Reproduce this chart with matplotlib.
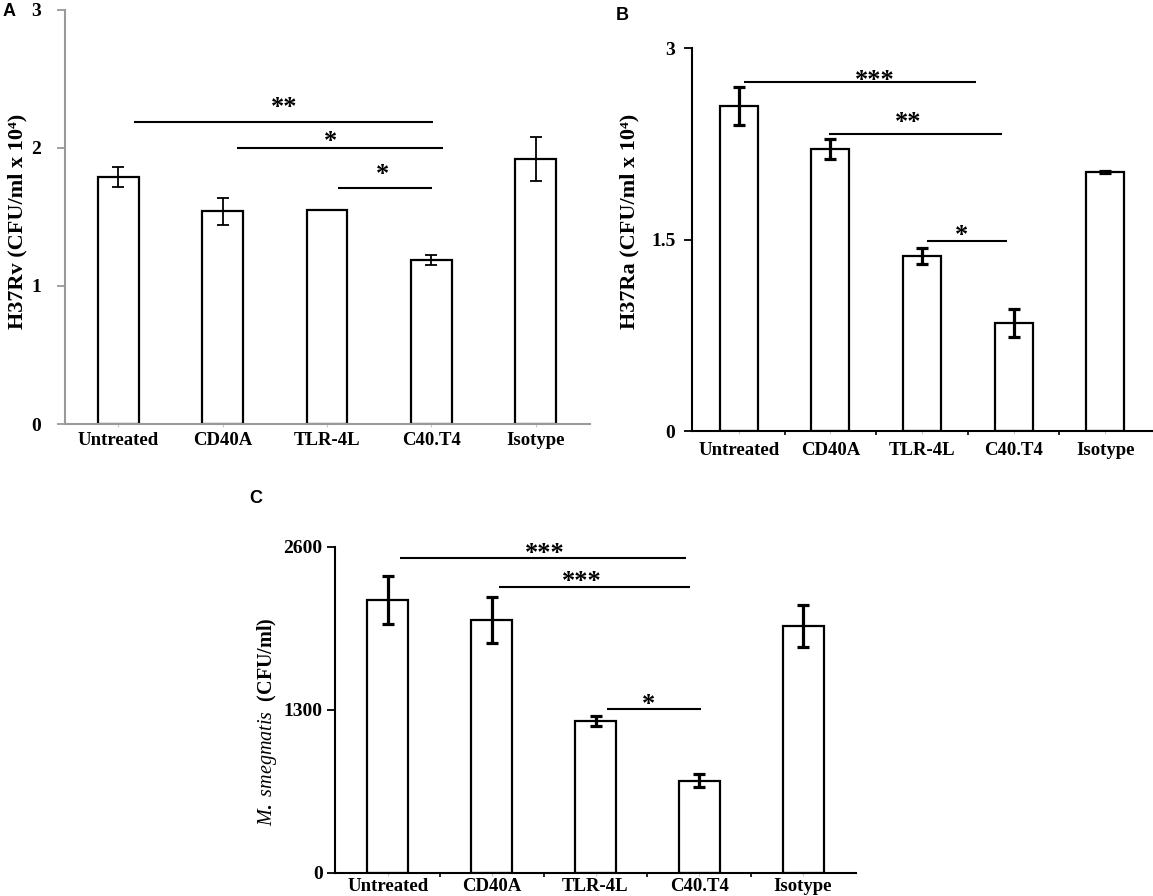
import numpy as np
import matplotlib
matplotlib.use("Agg")
import matplotlib.pyplot as plt

plt.rcParams['font.family'] = ['Liberation Serif', 'DejaVu Serif']
plt.rcParams['mathtext.fontset'] = 'custom'
plt.rcParams['mathtext.rm'] = 'Liberation Serif:bold'
plt.rcParams['mathtext.it'] = 'Liberation Serif:italic'

groups = ["Untreated", "CD40A", "TLR-4L", "C40.T4", "Isotype"]

# panel A - H37Rv
rv_mean = [1.79, 1.54, 1.55, 1.19, 1.92]
rv_err = [0.072, 0.095, 0.0, 0.037, 0.157]
rv_sig = [(0.15, 3.02, 2.186, 1.59, 2.336, "**"),
          (1.14, 3.11, 1.998, 2.03, 2.094, "*"),
          (2.11, 3.01, 1.708, 2.53, 1.855, "*")]

# panel B - H37Ra
ra_mean = [2.55, 2.21, 1.372, 0.844, 2.03]
ra_err = [0.15, 0.078, 0.06, 0.11, 0.01]
ra_sig = [(0.06, 2.59, 2.738, 1.49, 2.798, "***"),
          (0.98, 2.87, 2.33, 1.85, 2.464, "**"),
          (2.06, 2.93, 1.492, 2.43, 1.576, "*")]

# panel C - M. smegmatis
ms_mean = [2174, 2014, 1209, 733, 1964]
ms_err = [194, 182, 38, 50, 168]
ms_sig = [(0.115, 2.87, 2508, 1.51, 2596, "***"),
          (1.07, 2.91, 2281, 1.87, 2374, "***"),
          (2.11, 3.02, 1303, 2.51, 1388, "*")]

W, H = 1153, 896
fig = plt.figure(figsize=(W / 100, H / 100), dpi=100)


def px_axes(left, right, bottom, top):
    return fig.add_axes([left / W, (H - bottom) / H, (right - left) / W, (bottom - top) / H])


def panel(ax, mean, err, sig, ylim, yticks, axcol, ebw, width, xright, labpad, ypad):
    x = np.arange(len(groups))
    ax.bar(x, mean, width, color='white', edgecolor='black', linewidth=1.6, zorder=2)
    ax.errorbar(x, mean, yerr=err, fmt='none', ecolor='black', elinewidth=ebw,
                capsize=4, capthick=ebw, zorder=3)
    for x0, x1, yl, xs, ys, s in sig:
        ax.plot([x0, x1], [yl, yl], color='black', lw=1.5, solid_capstyle='butt')
        ax.annotate(s, (xs, ys), xytext=(0, -9), textcoords='offset points',
                    ha='center', va='baseline', fontsize=19, fontweight='bold')
    ax.set_xlim(-0.51, xright)
    ax.set_ylim(*ylim)
    ax.set_yticks(yticks)
    ax.set_yticklabels([f"{t:g}" for t in yticks], fontsize=14, fontweight='bold')
    ax.set_xticks(x)
    ax.set_xticklabels(groups, fontsize=13.5, fontweight='bold')
    ax.tick_params(axis='x', length=2, color='#c8c8c8', pad=labpad)
    ax.set_xticks(x[:-1] + 0.5, minor=True)
    ax.tick_params(axis='x', which='minor', length=3, color=axcol, width=1.2)
    ax.tick_params(axis='y', length=6, color=axcol, width=1.3, pad=ypad)
    for side in ['top', 'right']:
        ax.spines[side].set_visible(False)
    for side in ['left', 'bottom']:
        ax.spines[side].set_color(axcol)
        ax.spines[side].set_linewidth(1.5)
    ax.patch.set_alpha(0)


axA = px_axes(65, 590, 424, 10)
panel(axA, rv_mean, rv_err, rv_sig, (0, 3), [0, 1, 2, 3], '#9a9a9a', 1.3, 0.39, 4.52, 4, 11)
axA.tick_params(axis='x', which='minor', length=0)

axB = px_axes(692, 1152, 431, 48.3)
panel(axB, ra_mean, ra_err, ra_sig, (0, 3), [0, 1.5, 3], 'black', 2.3, 0.415, 4.51, 6, 6)

axC = px_axes(335, 856, 872.5, 546.7)
panel(axC, ms_mean, ms_err, ms_sig, (0, 2600), [0, 1300, 2600], 'black', 2.3, 0.396, 4.51, 2, 3)

fig.text(17 / W, 1 - 221 / H, "H37Rv (CFU/ml x 10\u2074)", rotation=90, ha='center', va='center',
         fontsize=16, fontweight='bold')
fig.text(629 / W, 1 - 221 / H, "H37Ra (CFU/ml x 10\u2074)", rotation=90, ha='center', va='center',
         fontsize=16, fontweight='bold')
fig.text(267 / W, 1 - 722 / H, r"$\mathit{M.\ smegmatis}$  (CFU/ml)", rotation=90,
         ha='center', va='center', fontsize=14.5, fontweight='bold')

for lab, lx, ly in [("A", 9, 12), ("B", 622, 15), ("C", 256, 498)]:
    fig.text(lx / W, 1 - ly / H, lab, ha='center', va='center', fontsize=13,
             fontweight='bold', family='Liberation Sans')

fig.savefig("out.png", dpi=100)
